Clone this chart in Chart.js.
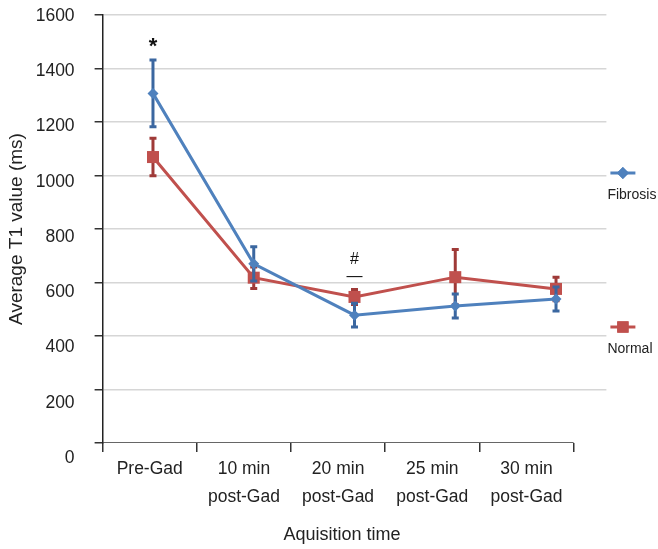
<!DOCTYPE html>
<html>
<head>
<meta charset="utf-8">
<script src="https://cdn.jsdelivr.net/npm/chart.js@4.4.1/dist/chart.umd.min.js"></script>
<style>
html,body{margin:0;padding:0;background:#fff;}
canvas{display:block;}
</style>
</head>
<body>
<canvas id="c" width="658" height="549"></canvas>
<script>
// ---- data ----
const categories = ['Pre-Gad', ['10 min', 'post-Gad'], ['20 min', 'post-Gad'], ['25 min', 'post-Gad'], ['30 min', 'post-Gad']];
const fibrosis    = [1307, 670, 478, 512, 538];
const fibrosisErr = [125, 64, 44, 45, 45];
const normal      = [1069, 618, 546, 620, 576];
const normalErr   = [70, 40, 28, 103, 44];
const yTicks      = [0, 200, 400, 600, 800, 1000, 1200, 1400, 1600];
const seriesNames = ['Fibrosis', 'Normal'];
const annotations = [
  { text: '*', cat: 0, value: 1480, bold: true },
  { text: '#', cat: 2, value: 684, bold: false },
  { text: '\u2014', cat: 2, value: 622, bold: false }
];

const FONT = '"Liberation Sans", Arial, Helvetica, sans-serif';
const BLUE = '#4f81bd', RED = '#c0504d';
const BLUE_ERR = '#3b67a0', RED_ERR = '#9f3a38';

const errorBarPlugin = {
  id: 'errorBars',
  beforeDatasetDraw(chart, args) {
    const ds = chart.data.datasets[args.index];
    if (!ds.errorBars) return;
    const ys = chart.scales.y;
    const ctx = chart.ctx;
    ctx.save();
    ctx.strokeStyle = ds.errorColor;
    ctx.lineWidth = 3;
    args.meta.data.forEach((pt, j) => {
      const v = ds.data[j], e = ds.errorBars[j];
      const top = ys.getPixelForValue(v + e), bot = ys.getPixelForValue(v - e);
      ctx.beginPath();
      ctx.moveTo(pt.x, top); ctx.lineTo(pt.x, bot);
      ctx.moveTo(pt.x - 3.5, top); ctx.lineTo(pt.x + 3.5, top);
      ctx.moveTo(pt.x - 3.5, bot); ctx.lineTo(pt.x + 3.5, bot);
      ctx.stroke();
    });
    ctx.restore();
  }
};

const extrasPlugin = {
  id: 'extras',
  afterDraw(chart) {
    const ctx = chart.ctx, xs = chart.scales.x, ys = chart.scales.y, ca = chart.chartArea;
    ctx.save();
    ctx.fillStyle = '#111';
    ctx.textAlign = 'center';
    ctx.textBaseline = 'middle';
    annotations.forEach(a => {
      ctx.font = (a.bold ? 'bold 22px ' : '16px ') + FONT;
      ctx.fillText(a.text, xs.getPixelForValue(a.cat), ys.getPixelForValue(a.value));
    });
    // legend
    const items = [
      { name: seriesNames[0], color: BLUE, style: 'rectRot', r: 6, dy: 158 },
      { name: seriesNames[1], color: RED, style: 'rect', r: 8, dy: 312 }
    ];
    items.forEach(it => {
      const x0 = ca.right + 4, x1 = ca.right + 29, y = ca.top + it.dy;
      ctx.strokeStyle = it.color; ctx.lineWidth = 3;
      ctx.beginPath(); ctx.moveTo(x0, y); ctx.lineTo(x1, y); ctx.stroke();
      ctx.fillStyle = it.color;
      Chart.helpers.drawPoint(ctx, { pointStyle: it.style, radius: it.r, borderWidth: 0 }, (x0 + x1) / 2, y);
      ctx.fill();
      ctx.fillStyle = '#222';
      ctx.font = '14px ' + FONT;
      ctx.textAlign = 'left';
      ctx.fillText(it.name, ca.right + 1, y + 22);
    });
    ctx.restore();
  }
};

const nCat = categories.length;
new Chart(document.getElementById('c'), {
  type: 'line',
  data: {
    labels: categories,
    datasets: [
      { label: seriesNames[0], data: fibrosis, errorBars: fibrosisErr, errorColor: BLUE_ERR,
        borderColor: BLUE, backgroundColor: BLUE, borderWidth: 3, pointStyle: 'rectRot',
        pointRadius: 5.5, pointBorderWidth: 0, pointBackgroundColor: BLUE, tension: 0,
        xAxisID: 'x', yAxisID: 'y' },
      { label: seriesNames[1], data: normal, errorBars: normalErr, errorColor: RED_ERR,
        borderColor: RED, backgroundColor: RED, borderWidth: 3, pointStyle: 'rect',
        pointRadius: 8.5, pointBorderWidth: 0, pointBackgroundColor: RED, tension: 0,
        xAxisID: 'x', yAxisID: 'y' },
      { label: 'axis', data: [{ x: 0, y: 0 }, { x: nCat, y: 0 }], borderColor: '#333',
        borderWidth: 1.5, pointRadius: 0, xAxisID: 'x2', yAxisID: 'y' }
    ]
  },
  options: {
    responsive: false,
    animation: false,
    devicePixelRatio: 1,
    layout: { padding: { left: 0, right: 51.6, top: 15, bottom: 0 } },
    plugins: { legend: { display: false }, tooltip: { enabled: false } },
    scales: {
      x: { type: 'category', display: false, offset: true },
      x2: {
        type: 'linear', position: 'bottom', min: 0, max: 5.348,
        afterBuildTicks(s) {
          const t = [];
          for (let i = 0; i <= nCat * 2; i++) t.push({ value: i / 2 });
          s.ticks = t;
        },
        afterFit(s) { s.height = 106; },
        border: { display: false },
        grid: {
          display: true, drawOnChartArea: false, drawTicks: true, tickLength: 9, lineWidth: 1.5,
          color: c => (c.tick && c.tick.value % 1 === 0) ? '#333' : 'rgba(0,0,0,0)'
        },
        ticks: {
          autoSkip: false, maxRotation: 0, minRotation: 0, padding: 3, color: '#222',
          font: { family: FONT, size: 17.5, lineHeight: 28 / 17.5 },
          callback: v => (v % 1 !== 0) ? categories[Math.floor(v)] : ''
        },
        title: {
          display: true, text: 'Aquisition time\u00a0\u00a0\u00a0\u00a0\u00a0', color: '#222',
          font: { family: FONT, size: 18, lineHeight: 1.2 }, padding: { top: 0, bottom: 3 }
        }
      },
      y: {
        type: 'linear', position: 'left', min: 0, max: 1600, weight: 0,
        afterBuildTicks(s) { s.ticks = yTicks.map(v => ({ value: v })); },
        afterFit(s) { s.width = 20; },
        border: { display: true, color: '#222', width: 1.5 },
        grid: {
          lineWidth: 1.5, tickLength: 8, tickColor: '#333',
          color: c => (c.tick && c.tick.value === 0) ? 'rgba(0,0,0,0)' : '#d6d6d6'
        },
        ticks: { display: false }
      },
      y2: {
        type: 'linear', position: 'left', min: 54.3, max: 1603.6, weight: 1,
        afterBuildTicks(s) { s.ticks = yTicks.map(v => ({ value: v })); },
        afterFit(s) { s.width = 82.6; },
        border: { display: false },
        grid: { display: false },
        ticks: { autoSkip: false, padding: 0, color: '#222', font: { family: FONT, size: 17.5 },
                 callback: v => String(v) },
        title: {
          display: true, text: 'Average T1 value (ms)', color: '#222',
          font: { family: FONT, size: 19, lineHeight: 1.2 }, padding: { top: 5, bottom: 0 }
        }
      }
    }
  },
  plugins: [errorBarPlugin, extrasPlugin]
});
</script>
</body>
</html>
